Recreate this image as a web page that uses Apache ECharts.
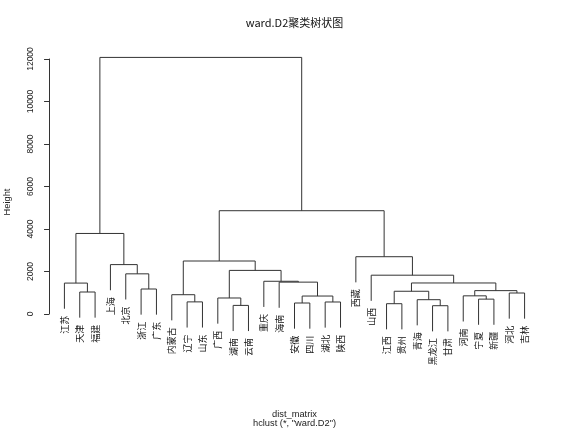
<!DOCTYPE html>
<html>
<head>
<meta charset="utf-8">
<script src="https://cdn.jsdelivr.net/npm/echarts@6/dist/echarts.min.js"></script>
<style>
html, body { margin: 0; padding: 0; background: #fff; }
#chart { width: 568px; height: 434px; }
</style>
</head>
<body>
<div id="chart"></div>
<script>
// 叶子顺序（树状图从左到右）
const leaves = ['江苏', '天津', '福建', '上海', '北京', '浙江', '广东', '内蒙古', '辽宁', '山东',
  '广西', '湖南', '云南', '重庆', '海南', '安徽', '四川', '湖北', '陕西', '西藏',
  '山西', '江西', '贵州', '青海', '黑龙江', '甘肃', '河南', '宁夏', '新疆', '河北', '吉林']

// 合并步骤，同 hclust$merge：负数 = 第几个叶子，正数 = 第几步合并
const merges = [
  [-25, -26], [-12, -13], [-22, -23], [-16, -17], [-18, -19],
  [-9, -10], [-24, 1], [-28, -29], [-11, 2], [4, 5],
  [-27, 8], [-8, 6], [-30, -31], [-2, -3], [3, 7],
  [11, 13], [-6, -7], [-1, 14], [15, 16], [-15, 10],
  [-14, 20], [-21, 19], [-5, 17], [9, 21], [-4, 23],
  [12, 24], [-20, 22], [18, 25], [26, 27], [28, 29]
]
// 每步合并的高度
const heights = [
  390, 405, 485, 517, 565,
  570, 673, 700, 753, 845,
  855, 908, 988, 1035, 1070,
  1100, 1176, 1455, 1460, 1500,
  1540, 1826, 1890, 2052, 2325,
  2494, 2696, 3790, 4861, 12075
]

const hang = 0.1 * Math.max(...heights)

// 计算每段连线
const mergeX = []
const segs = []
const leafData = []
const child = (id, h) => id < 0 ? { x: -id, y: h - hang } : { x: mergeX[id - 1], y: heights[id - 1] }
merges.forEach((m, i) => {
  const h = heights[i]
  const a = child(m[0], h)
  const b = child(m[1], h)
  mergeX.push((a.x + b.x) / 2)
  segs.push([a.x, a.y, b.x, b.y, h])
  m.forEach(id => { if (id < 0) leafData.push([-id, h - hang, leaves[-id - 1]]) })
})

const cjk = '"Noto Sans CJK SC", "Noto Sans", sans-serif'
const latin = '"Liberation Sans", Arial, sans-serif'

const myChart = echarts.init(document.getElementById('chart'))
const option = {
  animation: false,
  grid: { left: 46, top: 59, width: 497, height: 255 },
  xAxis: { type: 'value', min: -0.2, max: 32.2, show: false },
  yAxis: {
    type: 'value',
    min: 0,
    max: 12000,
    interval: 2000,
    offset: 1,
    splitLine: { show: false },
    axisLine: { show: true, lineStyle: { color: '#333', width: 1 } },
    axisTick: { show: true, length: 5, lineStyle: { color: '#333' } },
    axisLabel: { rotate: 90, margin: 10, color: '#222', fontSize: 8.5, fontFamily: latin, formatter: v => String(v) }
  },
  graphic: [
    { type: 'text', x: 294.5, y: 22.7, style: { text: 'ward.D2聚类树状图', align: 'center', verticalAlign: 'middle', fill: '#111', font: '11px ' + cjk } },
    { type: 'text', x: 7.7, y: 202, rotation: Math.PI / 2, style: { text: 'Height', align: 'center', verticalAlign: 'middle', fill: '#222', font: '9.3px ' + latin } },
    { type: 'text', x: 294.5, y: 414.3, style: { text: 'dist_matrix', align: 'center', verticalAlign: 'middle', fill: '#222', font: '9.3px ' + latin } },
    { type: 'text', x: 294.5, y: 423.5, style: { text: 'hclust (*, "ward.D2")', align: 'center', verticalAlign: 'middle', fill: '#222', font: '9.3px ' + latin } }
  ],
  series: [
    {
      type: 'custom',
      data: segs,
      encode: { x: [0, 2], y: [1, 3, 4] },
      silent: true,
      renderItem: (params, api) => {
        const p1 = api.coord([api.value(0), api.value(1)])
        const p2 = api.coord([api.value(0), api.value(4)])
        const p3 = api.coord([api.value(2), api.value(4)])
        const p4 = api.coord([api.value(2), api.value(3)])
        return {
          type: 'polyline',
          shape: { points: [p1, p2, p3, p4] },
          style: { stroke: '#333', lineWidth: 1, fill: null }
        }
      }
    },
    {
      type: 'custom',
      data: leafData.map(d => [d[0], d[1]]),
      encode: { x: 0, y: 1 },
      silent: true,
      renderItem: (params, api) => {
        const p = api.coord([api.value(0), api.value(1)])
        return {
          type: 'text',
          x: p[0],
          y: p[1] + 7,
          rotation: Math.PI / 2,
          style: {
            text: leafData[params.dataIndex][2],
            align: 'right',
            verticalAlign: 'middle',
            fill: '#111',
            font: '9px ' + cjk
          }
        }
      }
    }
  ]
}
myChart.setOption(option)
</script>
</body>
</html>
